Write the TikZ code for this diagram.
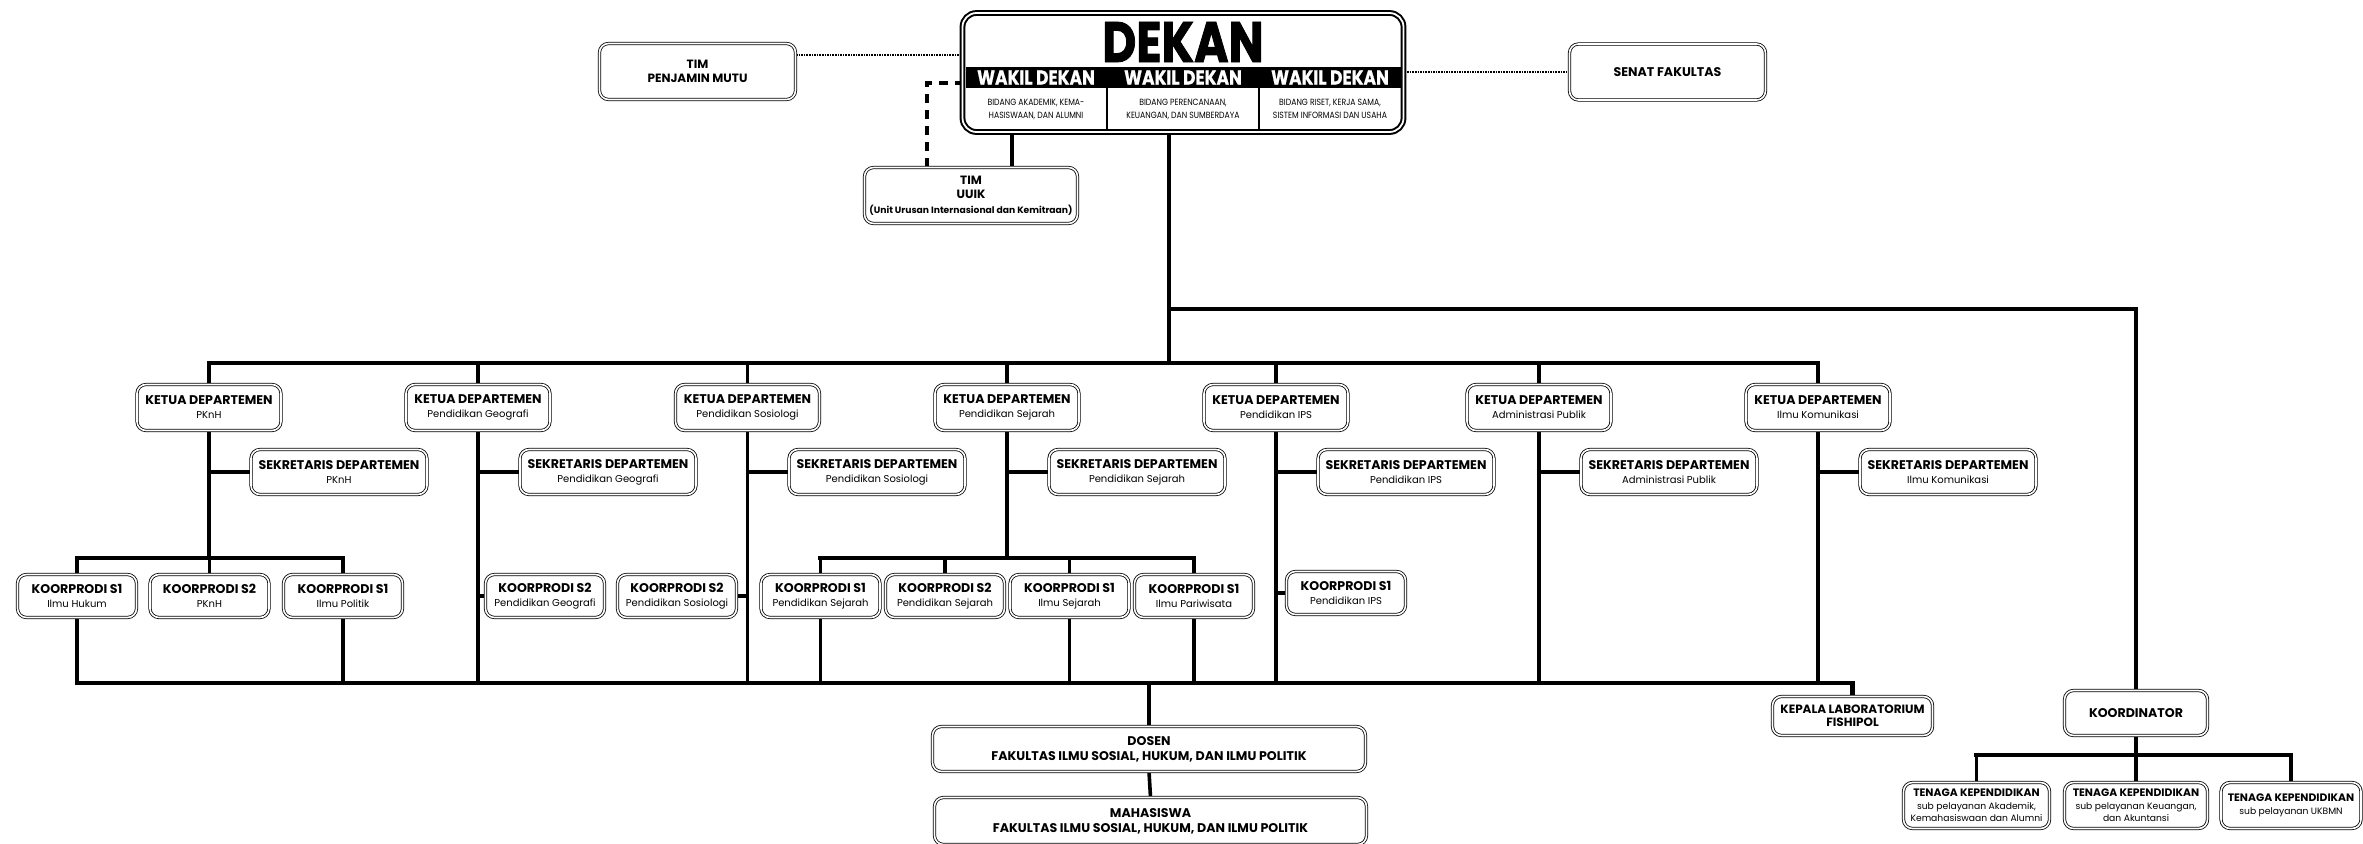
\documentclass[tikz,border=0pt]{standalone}
\usepackage{fontspec}
\setmainfont{Poppins}
\newfontfamily\heavyfont{Poppins}[BoldFeatures={FakeBold=1.6}]
\newfontfamily\semiheavy{Poppins}[BoldFeatures={FakeBold=0.8}]
\usepackage{graphicx}
\usetikzlibrary{backgrounds}
\newcommand\subt[1]{{\fontsize{10}{12}\selectfont\mdseries #1}}
\newcommand\subtt[1]{{\fontsize{9.2}{11}\selectfont\mdseries #1}}
\newcommand\cnd[1]{\scalebox{0.86}[1]{#1}}
\begin{document}
\begin{tikzpicture}[x=1pt,y=-1pt,
 box/.style={draw=black, line width=0.8pt, double=white, double distance=1.6pt, rounded corners=9pt, fill=white, align=center, inner sep=1pt, font=\fontsize{12.6}{14}\selectfont\bfseries},
 ketua/.style={box, minimum width=144pt, minimum height=46pt},
 sekr/.style={box, minimum width=176pt, minimum height=45pt},
 prodi/.style={box, minimum width=119pt, minimum height=43pt},
 tena/.style={box, minimum height=46pt, font=\fontsize{10.8}{12.5}\selectfont\bfseries},
 conn/.style={line width=3.6pt, draw=black, line cap=rect},
 bus/.style={line width=4.5pt, draw=black, line cap=rect},
 dotline/.style={line width=2pt, dash pattern=on 1.6pt off 1pt},
 dashline/.style={line width=4pt, dash pattern=on 9pt off 7pt},
 wak/.style={text=white, inner sep=0pt, font=\semiheavy\fontsize{20}{20}\selectfont\bfseries},
 bid/.style={inner sep=0pt, align=center, font=\fontsize{9}{13}\selectfont},
]
\useasboundingbox (0,0) rectangle (2363,843);

% ---- DEKAN block
\node[draw=black, line width=2pt, double=white, double distance=1.8pt, rounded corners=14pt, fill=white, minimum width=441pt, minimum height=119pt, inner sep=0pt] (dekan) at (1183,72.5) {};
\node[inner sep=0pt] (dk) at (1183,42) {\scalebox{0.82}[1]{\heavyfont\fontsize{57}{57}\selectfont\bfseries DEKAN}};
\node[fill=black, minimum width=435pt, minimum height=21pt, inner sep=0pt] (band) at (1183,77.5) {};
\node[wak] (w1) at (1036,77.5) {\scalebox{0.85}[1]{WAKIL DEKAN}};
\node[wak] (w2) at (1183,77.5) {\scalebox{0.85}[1]{WAKIL DEKAN}};
\node[wak] (w3) at (1330,77.5) {\scalebox{0.85}[1]{WAKIL DEKAN}};
\coordinate (dv1) at (1107,88);
\coordinate (dv2) at (1259,88);
\draw[line width=1.2pt] (dv1) -- (dv1 |- 0,129.5);
\draw[line width=1.2pt] (dv2) -- (dv2 |- 0,129.5);
\node[bid] (b1) at (1036,109) {\cnd{BIDANG AKADEMIK, KEMA-}\\\cnd{HASISWAAN, DAN ALUMNI}};
\node[bid] (b2) at (1183,109) {\cnd{BIDANG PERENCANAAN,}\\\cnd{KEUANGAN, DAN SUMBERDAYA}};
\node[bid] (b3) at (1330,109) {\cnd{BIDANG RISET, KERJA SAMA,}\\\cnd{SISTEM INFORMASI DAN USAHA}};

% ---- top side boxes
\node[box, minimum width=196pt, minimum height=56pt, font=\fontsize{12}{14.5}\selectfont\bfseries] (tpm) at (697.5,71.5) {TIM\\PENJAMIN MUTU};
\node[box, minimum width=196pt, minimum height=56pt] (senat) at (1667.5,72) {SENAT FAKULTAS};
\node[box, minimum width=213pt, minimum height=56pt, font=\fontsize{12}{14.5}\selectfont\bfseries] (uuik) at (971,195.5) {TIM\\UUIK\\{\fontsize{9.2}{11}\selectfont (Unit Urusan Internasional dan Kemitraan)}};

% ---- Ketua
\node[ketua] (k1) at (209,407.5) {KETUA DEPARTEMEN\\\subt{PKnH}};
\node[ketua] (k2) at (478,407.5) {KETUA DEPARTEMEN\\\subt{Pendidikan Geografi}};
\node[ketua] (k3) at (747.5,407.5) {KETUA DEPARTEMEN\\\subt{Pendidikan Sosiologi}};
\node[ketua] (k4) at (1007,407.5) {KETUA DEPARTEMEN\\\subt{Pendidikan Sejarah}};
\node[ketua] (k5) at (1276,407.5) {KETUA DEPARTEMEN\\\subt{Pendidikan IPS}};
\node[ketua] (k6) at (1539,407.5) {KETUA DEPARTEMEN\\\subt{Administrasi Publik}};
\node[ketua] (k7) at (1818,407.5) {KETUA DEPARTEMEN\\\subt{Ilmu Komunikasi}};

% ---- Sekretaris
\node[sekr] (s1) at (339,472) {SEKRETARIS DEPARTEMEN\\\subt{PKnH}};
\node[sekr] (s2) at (608,472) {SEKRETARIS DEPARTEMEN\\\subt{Pendidikan Geografi}};
\node[sekr] (s3) at (877,472) {SEKRETARIS DEPARTEMEN\\\subt{Pendidikan Sosiologi}};
\node[sekr] (s4) at (1137,472) {SEKRETARIS DEPARTEMEN\\\subt{Pendidikan Sejarah}};
\node[sekr] (s5) at (1406,472) {SEKRETARIS DEPARTEMEN\\\subt{Pendidikan IPS}};
\node[sekr] (s6) at (1669,472) {SEKRETARIS DEPARTEMEN\\\subt{Administrasi Publik}};
\node[sekr] (s7) at (1948,472) {SEKRETARIS DEPARTEMEN\\\subt{Ilmu Komunikasi}};

% ---- Koorprodi
\node[prodi] (p1) at (77,596) {KOORPRODI S1\\\subt{Ilmu Hukum}};
\node[prodi] (p2) at (209.5,596) {KOORPRODI S2\\\subt{PKnH}};
\node[prodi] (p3) at (343,596) {KOORPRODI S1\\\subt{Ilmu Politik}};
\node[prodi] (p4) at (545,596) {KOORPRODI S2\\\subt{Pendidikan Geografi}};
\node[prodi] (p5) at (677,596) {KOORPRODI S2\\\subt{Pendidikan Sosiologi}};
\node[prodi] (p6) at (820.5,596) {KOORPRODI S1\\\subt{Pendidikan Sejarah}};
\node[prodi] (p7) at (945,596) {KOORPRODI S2\\\subt{Pendidikan Sejarah}};
\node[prodi] (p8) at (1069.5,596) {KOORPRODI S1\\\subt{Ilmu Sejarah}};
\node[prodi] (p9) at (1194,596) {KOORPRODI S1\\\subt{Ilmu Pariwisata}};
\node[prodi] (p10) at (1346,593) {KOORPRODI S1\\\subt{Pendidikan IPS}};

% ---- bottom
\node[box, minimum width=160pt, minimum height=39pt, font=\fontsize{12}{12.5}\selectfont\bfseries] (lab) at (1852.5,716) {KEPALA LABORATORIUM\\FISHIPOL};
\node[box, minimum width=433pt, minimum height=45pt, font=\fontsize{12.6}{15}\selectfont\bfseries] (dosen) at (1149,749) {DOSEN\\FAKULTAS ILMU SOSIAL, HUKUM, DAN ILMU POLITIK};
\node[box, minimum width=432pt, minimum height=47pt, font=\fontsize{12.6}{15}\selectfont\bfseries] (maha) at (1150.5,821) {MAHASISWA\\FAKULTAS ILMU SOSIAL, HUKUM, DAN ILMU POLITIK};
\node[box, minimum width=143pt, minimum height=45pt] (koord) at (2136,713) {KOORDINATOR};
\node[tena, minimum width=146pt] (t1) at (1976.5,805.5) {TENAGA KEPENDIDIKAN\\\subtt{sub pelayanan Akademik,}\\\subtt{Kemahasiswaan dan Alumni}};
\node[tena, minimum width=143pt] (t2) at (2136,805.5) {TENAGA KEPENDIDIKAN\\\subtt{sub pelayanan Keuangan,}\\\subtt{dan Akuntansi}};
\node[tena, minimum width=140pt] (t3) at (2291,805.5) {TENAGA KEPENDIDIKAN\\\subtt{sub pelayanan UKBMN}};

% ---- helper coordinates
\coordinate (trunk) at (1169,0);
\coordinate (ux) at (1012,0);
\coordinate (dashX) at (927,0);
\coordinate (dashY) at (0,83);
\coordinate (dotL) at (0,55);
\coordinate (rb) at (0,309);
\coordinate (dbus) at (0,363);
\coordinate (kbus) at (0,558);
\coordinate (bb) at (0,683);
\coordinate (tbus) at (0,755);

\begin{scope}[on background layer]
% top
\draw[dotline] (tpm.east |- dotL) -- (dekan.west |- dotL);
\draw[dotline] (dekan.east |- senat.west) -- (senat.west);
\draw[dashline] (uuik.north -| dashX) -- (dashX |- dashY) -- (dekan.west |- dashY);
\draw[conn] (dekan.south -| ux) -- (uuik.north -| ux);
\draw[bus] (dekan.south -| trunk) -- (trunk |- dbus);
\draw[bus] (trunk |- rb) -| (koord.north);
% dept bus
\draw[bus] (k1.north |- dbus) -- (k7.north |- dbus);
\foreach \i in {1,...,7} {
  \draw[conn] (k\i.north |- dbus) -- (k\i.north);
  \draw[conn] (s\i.west -| k\i.south) -- (s\i.west);
}
% PKnH
\draw[conn] (k1.south) -- (k1.south |- kbus);
\draw[bus] (p1.north |- kbus) -- (p3.north |- kbus);
\foreach \i in {1,2,3} \draw[conn] (p\i.north |- kbus) -- (p\i.north);
% Sejarah
\draw[conn] (k4.south) -- (k4.south |- kbus);
\draw[bus] (p6.north |- kbus) -- (p9.north |- kbus);
\foreach \i in {6,7,8,9} \draw[conn] (p\i.north |- kbus) -- (p\i.north);
% long verticals
\foreach \k in {k2,k3,k5,k6,k7} \draw[conn] (\k.south) -- (\k.south |- bb);
\draw[conn] (p4.west) -- (p4.west -| k2.south);
\draw[conn] (p5.east) -- (p5.east -| k3.south);
\draw[conn] (p10.west) -- (p10.west -| k5.south);
\foreach \p in {p1,p3,p6,p8,p9} \draw[conn] (\p.south) -- (\p.south |- bb);
% bottom bus
\draw[bus] (p1.south |- bb) -- (lab.north |- bb) -- (lab.north);
\draw[conn] (dosen.north |- bb) -- (dosen.north);
\draw[conn] (dosen.south) -- (maha.north);
% koordinator
\draw[conn] (koord.south) -- (t2.north);
\draw[bus] (t1.north |- tbus) -- (t3.north |- tbus);
\draw[conn] (t1.north |- tbus) -- (t1.north);
\draw[conn] (t3.north |- tbus) -- (t3.north);
\end{scope}
\end{tikzpicture}
\end{document}
